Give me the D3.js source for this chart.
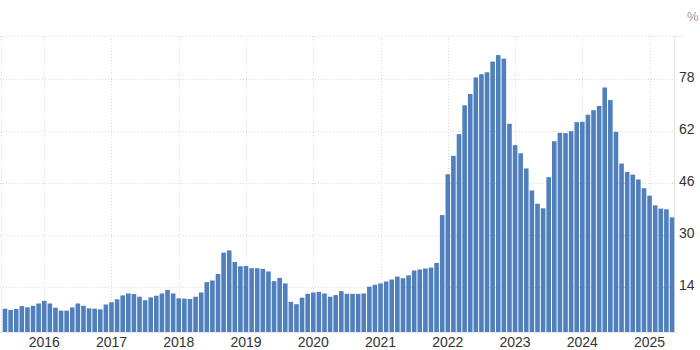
<!DOCTYPE html>
<html>
<head>
<meta charset="utf-8">
<script src="https://cdn.jsdelivr.net/npm/d3@7"></script>
<style>
  html, body { margin: 0; padding: 0; background: #fff; }
  svg { display: block; }
  text { font-family: "Liberation Sans", Arial, sans-serif; }
</style>
</head>
<body>
<svg id="chart" width="700" height="350"></svg>
<script>
// ---- Data (monthly, Jun 2015 – May 2025) ----
const startMonth = "2015-06";
const values2015 = [7.2, 6.8, 7.1, 8.0, 7.6, 8.1, 8.8];
const values2016 = [9.6, 8.8, 7.5, 6.6, 6.6, 7.6, 8.8, 8.1, 7.3, 7.2, 7.0, 8.5];
const values2017 = [9.2, 10.1, 11.3, 11.9, 11.7, 10.9, 9.8, 10.7, 11.2, 11.9, 13.0, 11.9];
const values2018 = [10.4, 10.3, 10.2, 10.9, 12.2, 15.4, 15.9, 17.9, 24.5, 25.2, 21.6, 20.3];
const values2019 = [20.4, 19.7, 19.7, 19.5, 18.7, 15.7, 16.7, 15.0, 9.3, 8.6, 10.6, 11.8];
const values2020 = [12.2, 12.4, 11.9, 10.9, 11.4, 12.6, 11.8, 11.8, 11.8, 11.9, 14.0, 14.6];
const values2021 = [15.0, 15.6, 16.2, 17.1, 16.6, 17.5, 19.0, 19.3, 19.6, 19.9, 21.3, 36.1];
const values2022 = [48.7, 54.4, 61.1, 70.0, 73.5, 78.6, 79.6, 80.2, 83.5, 85.5, 84.4, 64.3];
const values2023 = [57.7, 55.2, 50.5, 43.7, 39.6, 38.2, 47.8, 58.9, 61.5, 61.4, 62.0, 64.8];
const values2024 = [64.9, 67.1, 68.5, 69.8, 75.5, 71.6, 61.8, 52.0, 49.4, 48.6, 47.1, 44.4];
const values2025 = [42.1, 39.1, 38.1, 37.9, 35.4];

const yTicks = [14, 30, 46, 62, 78];
const xTickLabels = ["2016","2017","2018","2019","2020","2021","2022","2023","2024","2025"];
const unitLabel = "%";

// ---- Build table ----
const values = [].concat(values2015, values2016, values2017, values2018, values2019,
  values2020, values2021, values2022, values2023, values2024, values2025);
const parse = d3.timeParse("%Y-%m");
const start = parse(startMonth);
const months = values.map((v, i) => d3.timeMonth.offset(start, i));
const fmt = d3.timeFormat("%Y-%m");
const data = months.map((m, i) => ({ key: fmt(m), date: m, value: values[i] }));

// ---- Layout ----
const svg = d3.select("#chart");
const plotLeft = 2.7, plotRight = 674.3, plotTop = 36, plotBottom = 332;

const x = d3.scaleBand()
  .domain(data.map(d => d.key))
  .range([plotLeft, plotRight])
  .paddingInner(0.18)
  .paddingOuter(0);

const y = d3.scaleLinear()
  .domain([0, 91.4])
  .range([plotBottom, plotTop]);

const grid = svg.append("g");

// top border
grid.append("line")
  .attr("x1", 0).attr("x2", 684)
  .attr("y1", plotTop + 0.5).attr("y2", plotTop + 0.5)
  .attr("stroke", "#d9d9d9").attr("stroke-dasharray", "1,2");

// left border
grid.append("line")
  .attr("x1", 1.5).attr("x2", 1.5)
  .attr("y1", plotTop).attr("y2", plotBottom)
  .attr("stroke", "#d9d9d9").attr("stroke-dasharray", "1,2");

// horizontal gridlines
grid.selectAll("line.h").data(yTicks).enter().append("line")
  .attr("class", "h")
  .attr("x1", 0).attr("x2", 675)
  .attr("y1", d => Math.round(y(d)) + 0.5).attr("y2", d => Math.round(y(d)) + 0.5)
  .attr("stroke", "#d9d9d9").attr("stroke-dasharray", "1,2");

// vertical gridlines at January of each labelled year
const janKeys = xTickLabels.map(yr => yr + "-01");
grid.selectAll("line.v").data(janKeys).enter().append("line")
  .attr("class", "v")
  .attr("x1", d => Math.round(x(d) + x.bandwidth() / 2) + 0.5)
  .attr("x2", d => Math.round(x(d) + x.bandwidth() / 2) + 0.5)
  .attr("y1", plotTop).attr("y2", plotBottom)
  .attr("stroke", "#d9d9d9").attr("stroke-dasharray", "1,2");

// right plot border
grid.append("line")
  .attr("x1", 674.5).attr("x2", 674.5)
  .attr("y1", plotTop).attr("y2", plotBottom)
  .attr("stroke", "#e3e3e3");

// bars
svg.append("g").selectAll("rect").data(data).enter().append("rect")
  .attr("x", d => x(d.key))
  .attr("width", x.bandwidth())
  .attr("y", d => y(d.value))
  .attr("height", d => y(0) - y(d.value))
  .attr("fill", "#4f7fbc");

// baseline
svg.append("line")
  .attr("x1", 0).attr("x2", 678)
  .attr("y1", plotBottom + 0.5).attr("y2", plotBottom + 0.5)
  .attr("stroke", "#e6e6e6");

// y axis labels (right)
svg.append("g").selectAll("text").data(yTicks).enter().append("text")
  .attr("x", 679)
  .attr("y", d => y(d) + 3)
  .attr("font-size", 14)
  .attr("fill", "#333")
  .text(d => d);

// unit label
svg.append("text")
  .attr("x", 687).attr("y", 21)
  .attr("font-size", 13)
  .attr("fill", "#999")
  .text(unitLabel);

// x axis labels
svg.append("g").selectAll("text").data(xTickLabels).enter().append("text")
  .attr("x", d => x(d + "-01") + x.bandwidth() / 2)
  .attr("y", 347)
  .attr("text-anchor", "middle")
  .attr("font-size", 14)
  .attr("fill", "#333")
  .text(d => d);
</script>
</body>
</html>
